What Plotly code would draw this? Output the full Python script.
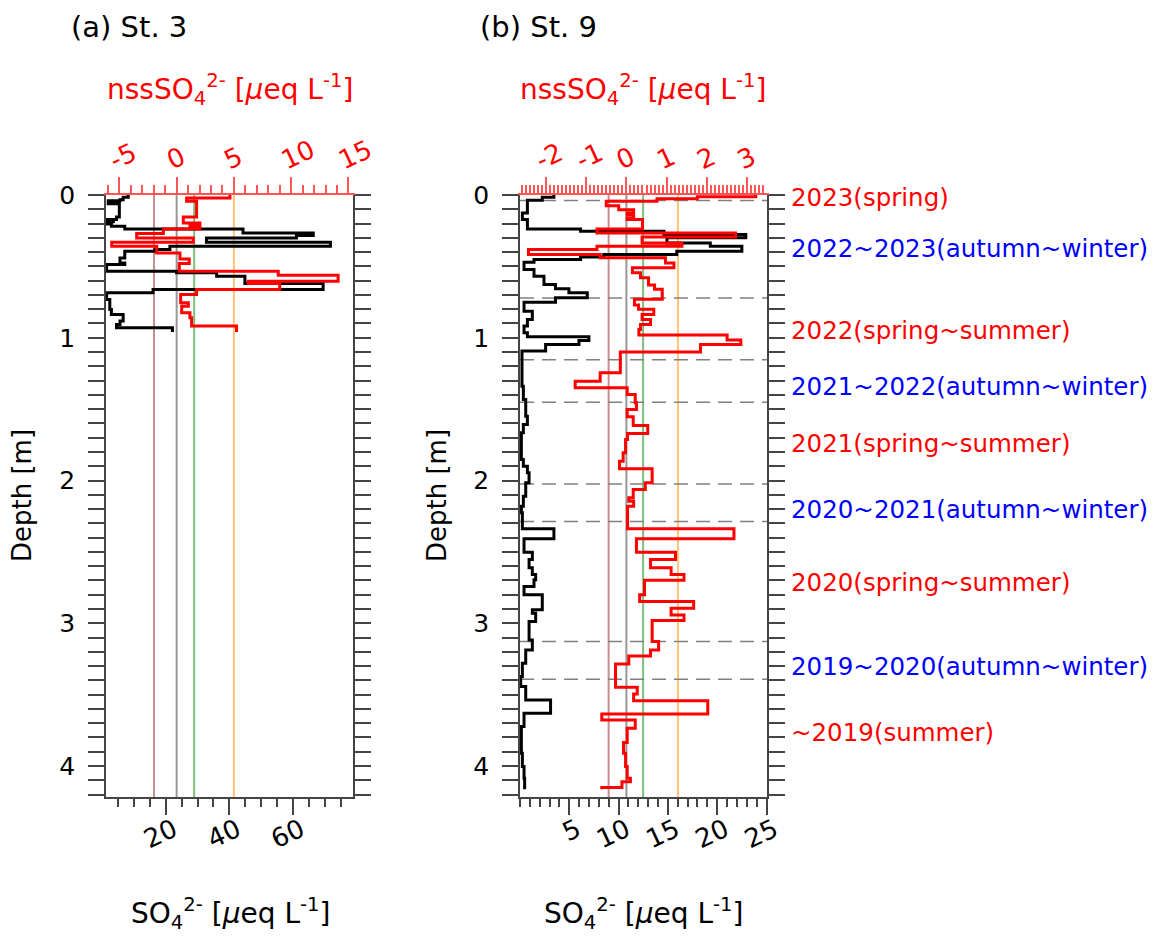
import plotly.graph_objects as go

W, H = 1157, 946      # browser window
OFF = 8               # page margin around the figure
FW, FH = W - 2 * OFF, H - 2 * OFF

# ---- St. 3 profiles (depth of layer top [m], value); last depth is bottom of last layer
st3_so4_depth = [0.000, 0.016, 0.033, 0.040, 0.047, 0.052, 0.061, 0.154, 0.172, 0.180, 0.188,
                 0.203, 0.219, 0.238, 0.266, 0.284, 0.301, 0.331, 0.359, 0.382, 0.394, 0.441,
                 0.476, 0.487, 0.534, 0.545, 0.569, 0.620, 0.662, 0.685, 0.732, 0.802, 0.837,
                 0.883, 0.907, 0.930, 0.960]
st3_so4 = [8.2, 6.6, 5.6, 1.9, 5.0, 1.9, 5.4, 4.5, 1.4, 3.5, 1.4,
           2.9, 7.1, 44.3, 66.4, 61.1, 32.8, 71.8, 21.3, 16.6, 7.1, 5.6,
           7.1, 1.4, 23.4, 36.0, 44.9, 69.5, 16.0, 1.4, 2.4, 2.9, 6.6,
           5.6, 4.5, 22.1]

st3_nss_depth = [0.000, 0.021, 0.044, 0.154, 0.196, 0.212, 0.224, 0.238, 0.270, 0.301, 0.331,
                 0.359, 0.406, 0.448, 0.480, 0.534, 0.562, 0.604, 0.620, 0.662, 0.697, 0.755,
                 0.779, 0.825, 0.860, 0.918, 0.960]
st3_nss = [4.65, 0.87, 1.74, 0.58, 2.03, 1.16, 2.03, -1.16, -3.49, 1.45, -5.67,
           -1.74, 0.29, 1.10, 0.23, 8.87, 14.1, 6.25, 9.0, 1.74, 0.35, 1.02,
           0.44, 1.16, 1.31, 5.23]

# ---- St. 9 profiles
st9_so4_depth = [0.000, 0.016, 0.037, 0.126, 0.172, 0.238, 0.254, 0.277, 0.300, 0.336, 0.359,
                 0.394, 0.417, 0.434, 0.452, 0.471, 0.522, 0.569, 0.627, 0.657, 0.685, 0.720,
                 0.751, 0.814, 0.872, 0.918, 0.965, 0.993, 1.019, 1.047, 1.093, 1.339, 1.433,
                 1.549, 1.608, 1.666, 1.853, 1.900, 1.946, 2.016, 2.110, 2.180, 2.226, 2.338,
                 2.408, 2.502, 2.553, 2.611, 2.658, 2.696, 2.743, 2.800, 2.906, 2.930, 2.988,
                 3.117, 3.187, 3.280, 3.373, 3.443, 3.537, 3.630, 3.724, 3.910, 4.004, 4.086,
                 4.163]
st9_so4 = [3.44, 2.26, 0.75, 0.24, 0.75, 6.14, 14.6, 22.9, 14.9, 19.3, 22.5,
           15.9, 8.5, 6.14, 1.42, 0.41, 1.42, 2.43, 3.6, 4.96, 6.82, 3.6,
           0.41, 1.25, 0.75, 0.41, 0.75, 6.99, 5.98, 2.6, 0.2, 0.34, 0.58,
           0.75, 0.34, 0.14, 0.34, 0.75, 0.92, 0.58, 0.34, 0.14, 0.24, 3.44,
           0.41, 1.25, 0.92, 1.25, 1.59, 1.42, 0.41, 2.26, 1.25, 1.59, 0.92,
           1.25, 0.58, 0.24, 0.07, 0.58, 3.10, 0.41, 0.14, 0.24, 0.41, 0.47]

st9_nss_depth = [0.000, 0.012, 0.026, 0.044, 0.075, 0.103, 0.126, 0.138, 0.161, 0.172, 0.238,
                 0.266, 0.294, 0.336, 0.359, 0.382, 0.417, 0.440, 0.476, 0.510, 0.545, 0.580,
                 0.630, 0.660, 0.730, 0.770, 0.800, 0.837, 0.872, 0.907, 0.942, 0.981, 1.016,
                 1.047, 1.100, 1.246, 1.305, 1.351, 1.398, 1.456, 1.503, 1.554, 1.615, 1.671,
                 1.713, 1.806, 1.865, 1.918, 2.016, 2.063, 2.121, 2.145, 2.180, 2.338, 2.408,
                 2.502, 2.553, 2.611, 2.658, 2.698, 2.801, 2.848, 2.894, 2.942, 2.981, 3.128,
                 3.187, 3.229, 3.285, 3.448, 3.495, 3.542, 3.635, 3.677, 3.736, 3.836, 3.911,
                 4.004, 4.086, 4.110, 4.150, 4.163]
st9_nss = [3.21, 1.76, 0.76, -0.50, -0.19, 0.18, 0.02, 0.18, 0.02, 0.40, -0.73,
           2.71, 0.39, 1.38, -0.73, -2.43, -0.65, 0.97, 1.18, 0.15, 0.35, 0.55,
           0.70, 0.89, 0.20, 0.30, 0.68, 0.39, 0.60, 0.35, 0.31, 2.50, 2.84,
           1.84, -0.15, -0.65, -1.27, 0.02, 0.22, 0.25, 0.02, 0.17, 0.53, 0.03,
           -0.02, -0.08, -0.17, 0.64, 0.47, 0.17, 0.06, 0.18, 0.03, 2.67, 0.25,
           1.22, 0.60, 1.11, 1.43, 0.45, 0.33, 1.67, 1.11, 1.43, 0.64, 0.80,
           0.60, 0.06, -0.27, 0.27, 0.18, 2.02, -0.61, 0.22, 0.02, -0.07, -0.02,
           0.02, 0.10, -0.11, -0.61]

# tick labels
st3_so4_ticks = [20, 40, 60]
st3_nss_ticks = [-5, 0, 5, 10, 15]
st9_so4_ticks = [5, 10, 15, 20, 25]
st9_nss_ticks = [-2, -1, 0, 1, 2, 3]
depth_ticks = [0, 1, 2, 3, 4]

# reference lines on the nssSO4 axis
st3_ref = [-1.98, 0.0, 1.53, 5.0]
st9_ref = [-0.44, 0.0, 0.415, 1.28]
ref_colors = ["rgba(185,115,115,0.8)", "rgba(140,140,140,0.9)",
              "rgba(110,185,110,0.9)", "rgba(255,190,100,0.9)"]

# season boundaries at St. 9
st9_bounds = [0.038, 0.722, 1.154, 1.451, 2.025, 2.287, 3.128, 3.392]
season_labels = ["2023(spring)", "2022~2023(autumn~winter)", "2022(spring~summer)",
                 "2021~2022(autumn~winter)", "2021(spring~summer)",
                 "2020~2021(autumn~winter)", "2020(spring~summer)",
                 "2019~2020(autumn~winter)", "~2019(summer)"]
season_depth = [0.02, 0.376, 0.95, 1.343, 1.742, 2.205, 2.716, 3.305, 3.768]
season_colors = ["red", "blue", "red", "blue", "red", "blue", "red", "blue", "red"]

FONT = "DejaVu Sans"


def step(depths, values):
    # points at layer tops, plus the bottom of the last layer
    return values + [values[-1]], depths


fig = go.Figure()

x, y = step(st3_so4_depth, st3_so4)
fig.add_trace(go.Scatter(x=x, y=y, xaxis="x", yaxis="y", mode="lines",
                         line=dict(color="black", width=3, shape="vh")))
x, y = step(st3_nss_depth, st3_nss)
fig.add_trace(go.Scatter(x=x, y=y, xaxis="x2", yaxis="y", mode="lines",
                         line=dict(color="red", width=3, shape="vh")))
x, y = step(st9_so4_depth, st9_so4)
fig.add_trace(go.Scatter(x=x, y=y, xaxis="x3", yaxis="y2", mode="lines",
                         line=dict(color="black", width=3, shape="vh")))
x, y = step(st9_nss_depth, st9_nss)
fig.add_trace(go.Scatter(x=x, y=y, xaxis="x4", yaxis="y2", mode="lines",
                         line=dict(color="red", width=3, shape="vh")))

shapes = []
for v, c in zip(st3_ref, ref_colors):
    shapes.append(dict(type="line", xref="x2", yref="y domain", x0=v, x1=v, y0=0, y1=1,
                       line=dict(color=c, width=2), layer="below"))
for v, c in zip(st9_ref, ref_colors):
    shapes.append(dict(type="line", xref="x4", yref="y2 domain", x0=v, x1=v, y0=0, y1=1,
                       line=dict(color=c, width=2), layer="below"))
for d in st9_bounds:
    shapes.append(dict(type="line", xref="x3 domain", yref="y2", x0=0, x1=1, y0=d, y1=d,
                       line=dict(color="gray", width=1.5, dash="14px,8px"), layer="below"))


def px_x(p):
    return (p - OFF) / FW


def px_y(p):
    return 1 - (p - OFF) / FH


dom_y = [px_y(797), px_y(195)]
dom_a = [px_x(106), px_x(353)]
dom_b = [px_x(520), px_x(767)]


def labels(vals):
    return [str(v) for v in vals]


def xbottom(dom, rng, tickvals, mdtick, anchor):
    return dict(domain=dom, range=rng, anchor=anchor, side="bottom", showgrid=False,
                zeroline=False, showline=True, linecolor="#444", linewidth=1.5,
                automargin=False, tickmode="array", tickvals=tickvals,
                ticktext=labels(tickvals), ticks="outside", ticklen=16, tickwidth=1.5,
                tickcolor="#444", tickangle=-25, ticklabelshift=8, ticklabelstandoff=-10,
                tickfont=dict(family=FONT, size=26, color="black"),
                minor=dict(dtick=mdtick, tick0=0, ticks="outside", ticklen=8,
                           tickcolor="#444", tickwidth=1.5))


def xtop(over, rng, tickvals, mdtick, anchor):
    return dict(overlaying=over, range=rng, anchor=anchor, side="top", showgrid=False,
                zeroline=False, showline=True, linecolor="#ff5555", linewidth=1.5,
                automargin=False, tickmode="array", tickvals=tickvals,
                ticktext=labels(tickvals), ticks="outside", ticklen=16, tickwidth=1.5,
                tickcolor="#ff5555", tickangle=-25, ticklabelshift=-10,
                ticklabelstandoff=-4,
                tickfont=dict(family=FONT, size=26, color="red"),
                minor=dict(dtick=mdtick, tick0=0, ticks="outside", ticklen=8,
                           tickcolor="#ff5555", tickwidth=1.5))


def ydepth(anchor):
    return dict(domain=dom_y, range=[4.217, 0], anchor=anchor, showgrid=False,
                zeroline=False, showline=True, linecolor="#444", linewidth=1.5,
                automargin=False, mirror="allticks", ticks="outside", ticklen=16,
                tickwidth=1.5, tickcolor="#444", tickmode="array", tickvals=depth_ticks,
                ticktext=labels(depth_ticks), ticklabelstandoff=8,
                tickfont=dict(family=FONT, size=25, color="black"),
                minor=dict(dtick=0.1, tick0=0, ticks="outside", ticklen=8,
                           tickcolor="#444", tickwidth=1.5))


annotations = []


def note(text, px, py, size, color="black", angle=0, xanchor="center"):
    annotations.append(dict(text=text, x=px_x(px), y=px_y(py), xref="paper", yref="paper",
                            showarrow=False, textangle=angle, xanchor=xanchor,
                            yanchor="middle",
                            font=dict(family=FONT, size=size, color=color)))


nss_title = "nssSO<sub>4</sub><sup>2-</sup> [<i>μ</i>eq L<sup>-1</sup>]"
so4_title = "SO<sub>4</sub><sup>2-</sup> [<i>μ</i>eq L<sup>-1</sup>]"

note("(a) St. 3", 69, 27, 29, xanchor="left")
note("(b) St. 9", 478, 27, 29, xanchor="left")
note(nss_title, 230, 90, 28, color="red")
note(nss_title, 643, 90, 28, color="red")
note(so4_title, 230, 913, 28)
note(so4_title, 643, 913, 28)
note("Depth [m]", 22, 496, 26, angle=-90)
note("Depth [m]", 437, 496, 26, angle=-90)

for lab, d, c in zip(season_labels, season_depth, season_colors):
    annotations.append(dict(text=lab, x=px_x(789), y=d, xref="paper", yref="y2",
                            showarrow=False, xanchor="left", yanchor="middle",
                            font=dict(family=FONT, size=24.5, color=c)))

fig.update_layout(
    width=FW, height=FH, margin=dict(l=0, r=0, t=0, b=0),
    paper_bgcolor="white", plot_bgcolor="white", showlegend=False,
    xaxis=xbottom(dom_a, [1.2, 78.9], st3_so4_ticks, 5, "y"),
    xaxis2=xtop("x", [-6.17, 15.4], st3_nss_ticks, 1, "y"),
    xaxis3=xbottom(dom_b, [0, 25.05], st9_so4_ticks, 1, "y2"),
    xaxis4=xtop("x3", [-2.64, 3.49], st9_nss_ticks, 0.1, "y2"),
    yaxis=ydepth("x"),
    yaxis2=ydepth("x3"),
    shapes=shapes,
    annotations=annotations,
)

fig.write_html("out.html")
